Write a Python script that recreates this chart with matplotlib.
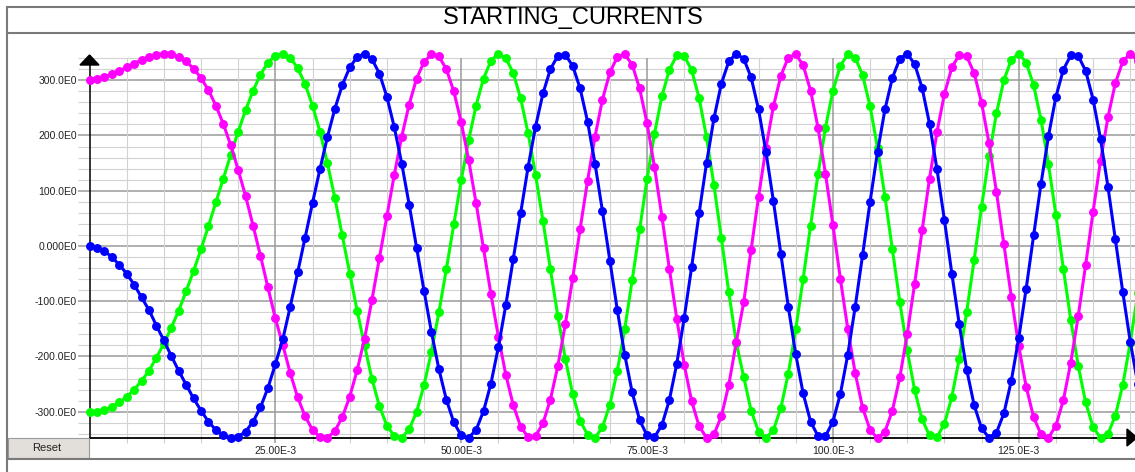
import numpy as np
import matplotlib
matplotlib.use("Agg")
import matplotlib.pyplot as plt
from matplotlib.lines import Line2D
from matplotlib.patches import Polygon, Rectangle

#Samples, one every 1 ms
blue = [0, -3, -9, -20, -34, -50, -70, -93, -116, -144, -171, -199, -226, -251, -276, -298, -318, -333, -343, -348,
	-345, -336, -318, -292, -257, -214, -169, -110, -48, 15, 78, 139, 197, 248, 291, 323, 342, 348, 338, 312,
	270, 215, 149, 75, -3, -81, -156, -223, -278, -319, -343, -347, -333, -299, -249, -183, -107, -24, 60, 143,
	216, 276, 320, 344, 346, 326, 285, 225, 149, 63, -27, -116, -197, -265, -315, -343, -346, -324, -279, -213,
	-130, -38, 59, 150, 231, 294, 334, 348, 339, 305, 247, 170, 81, -15, -110, -196, -267, -318, -344, -344,
	-318, -268, -197, -110, -16, 80, 170, 247, 304, 339, 348, 329, 286, 221, 139, 47, -50, -142, -224, -288,
	-330, -347, -338, -303, -244, -167, -77, 19, 113, 199, 270, 319, 345, 344, 317, 265, 194, 107, 12, -84,
	-173, -249, -306]
magenta = [301, 303, 306, 311, 317, 323, 330, 337, 342, 346, 348, 347, 342, 334, 321, 304, 282, 254, 221, 182,
	138, 90, 37, -18, -75, -131, -179, -230, -274, -308, -333, -346, -347, -335, -310, -273, -225, -168, -97, -22,
	54, 129, 198, 256, 303, 333, 347, 343, 320, 280, 224, 156, 78, -4, -87, -164, -233, -288, -327, -346,
	-344, -321, -278, -217, -142, -58, 31, 118, 198, 265, 314, 342, 347, 328, 285, 222, 143, 53, -41, -132,
	-215, -281, -326, -347, -341, -308, -251, -174, -102, -7, 89, 178, 253, 308, 341, 347, 327, 281, 214, 131,
	38, -59, -150, -230, -293, -333, -348, -336, -298, -238, -159, -68, 28, 122, 206, 275, 323, 346, 343, 313,
	259, 186, 98, 3, -92, -181, -255, -310, -341, -347, -325, -279, -211, -127, -34, 62, 154, 233, 295, 334,
	348, 335, 296]
green = [-301, -300, -297, -291, -283, -273, -260, -244, -226, -202, -177, -148, -117, -82, -45, -6, 36, 79, 122, 165,
	207, 246, 281, 310, 332, 344, 348, 341, 322, 293, 254, 207, 150, 87, 19, -50, -117, -180, -241, -290,
	-325, -344, -347, -332, -300, -252, -191, -120, -42, 39, 119, 191, 254, 303, 335, 348, 340, 313, 267, 204,
	129, 45, -42, -127, -204, -268, -316, -342, -347, -328, -287, -226, -150, -62, 30, 121, 203, 271, 319, 345,
	344, 318, 268, 197, 110, 14, -84, -175, -237, -298, -336, -348, -333, -293, -231, -151, -59, 37, 130, 214,
	281, 326, 347, 341, 309, 253, 178, 89, -6, -101, -189, -261, -314, -343, -346, -322, -273, -204, -119, -25,
	71, 162, 240, 300, 337, 348, 332, 291, 228, 148, 56, -41, -134, -217, -283, -328, -347, -340, -307, -251,
	-175, -86, 10]
t = np.arange(len(blue)) * 1e-3

yticks = [300, 200, 100, 0, -100, -200, -300]
ylabels = ["300.0E0", "200.0E0", "100.0E0", "0.000E0", "-100.0E0", "-200.0E0", "-300.0E0"]
xticks = [0.025, 0.050, 0.075, 0.100, 0.125]
xlabels = ["25.00E-3", "50.00E-3", "75.00E-3", "100.0E-3", "125.0E-3"]

W, H = 1135, 472
plt.rcParams['font.family'] = ['Liberation Sans', 'DejaVu Sans']

## Convert a pixel position to figure fraction
def px(x, y):
	return (x / W, 1 - y / H)

fig = plt.figure(figsize=(W / 100, H / 100), dpi=100)
fig.patch.set_facecolor('white')

#Plot area: x=0 at 89.5 px, 7.434 px per ms
x0, xb, ytop = 89.5, 437.7, 34
ax = fig.add_axes([x0 / W, (H - xb) / H, (W - x0) / W, (xb - ytop) / H])
ax.set_xlim(0, (W - x0) / 7.434 * 1e-3)
ax.set_ylim(-347, 383.6)
for s in ax.spines.values():
	s.set_visible(False)

#Grid, drawn by hand so it can run past the axes
for v in range(-340, 341, 20):
	major = v % 100 == 0
	ax.hlines(v, -0.00155, 0.15, colors='#9a9a9a' if major else '#d2d2d2',
		linewidth=1.1 if major else 0.8, clip_on=False, zorder=0)
for k in range(5, 145, 5):
	major = k % 25 == 0
	ax.vlines(k * 1e-3, -356, 340, colors='#9a9a9a' if major else '#d2d2d2',
		linewidth=1.1 if major else 0.8, clip_on=False, zorder=0)

#Axis lines
ax.plot([0, 0.15], [-347, -347], color='black', lw=1.3, clip_on=False, zorder=1)
ax.plot([0, 0], [-347, 344], color='black', lw=1.1, clip_on=False, zorder=1)

#Ticks and labels
ax.set_yticks(yticks, labels=ylabels)
ax.set_xticks(xticks, labels=xlabels)
ax.tick_params(axis='y', length=0, pad=9, labelsize=7.5, labelcolor='#222222')
ax.tick_params(axis='x', length=0, pad=6, labelsize=7.5, labelcolor='#222222')

#Currents
for y, c in ((green, '#00ff00'), (magenta, '#ff00ff'), (blue, '#0000ff')):
	ax.plot(t, y, color=c, lw=2.2, marker='o', ms=5.4, clip_on=False, zorder=3)

#Arrow heads on the axes
fig.add_artist(Polygon([px(80, 65), px(99, 65), px(89.5, 55)], closed=True,
	facecolor='black', edgecolor='black', transform=fig.transFigure))
fig.add_artist(Polygon([px(1127, 429), px(1127, 446), px(1137, 437.7)], closed=True,
	facecolor='black', edgecolor='black', transform=fig.transFigure))

#Frame around the panel and the title bar
for xs, ys in (([7, W], [7, 7]), ([7, W], [33, 33]), ([7, W], [459, 459]), ([7, 7], [7, H])):
	p = [px(a, b) for a, b in zip(xs, ys)]
	fig.add_artist(Line2D([p[0][0], p[1][0]], [p[0][1], p[1][1]], color='#7a7a7a',
		lw=1.5, transform=fig.transFigure))

fig.text(573 / W, 1 - 18 / H, 'STARTING_CURRENTS', ha='center', va='center', fontsize=17)

#Reset button
fig.add_artist(Rectangle(px(8, 458), 81 / W, 20 / H, facecolor='#e2dfda', edgecolor='#9a9a9a',
	lw=0.8, transform=fig.transFigure))
fig.text(47 / W, 1 - 448 / H, 'Reset', ha='center', va='center', fontsize=8, color='#222222')

fig.savefig('out.png', dpi=100)
